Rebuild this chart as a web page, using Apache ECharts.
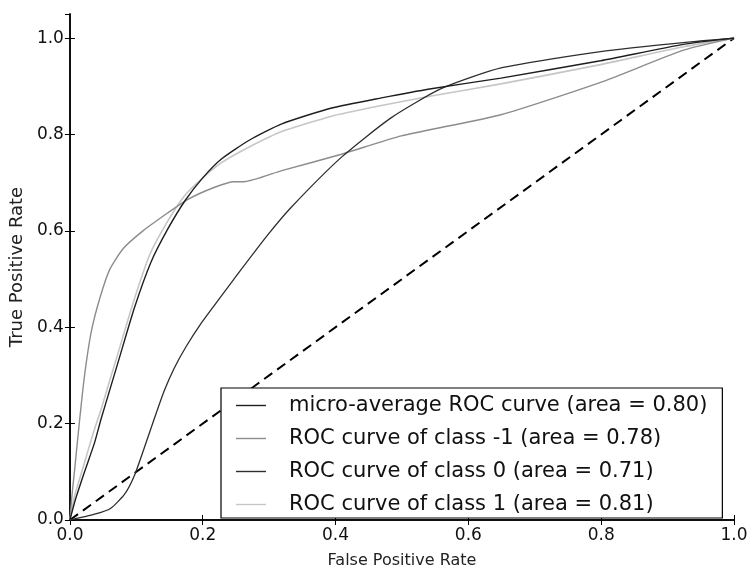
<!DOCTYPE html>
<html>
<head>
<meta charset="utf-8">
<script src="https://cdn.jsdelivr.net/npm/echarts@6/dist/echarts.min.js"></script>
<style>html,body{margin:0;padding:0;background:#fff}#c{width:751px;height:574px}</style>
</head>
<body>
<div id="c"></div>
<script>
var seriesNames = [
  'micro-average ROC curve (area = 0.80)',
  'ROC curve of class -1 (area = 0.78)',
  'ROC curve of class 0 (area = 0.71)',
  'ROC curve of class 1 (area = 0.81)'
];
var xTicks = [0, 0.2, 0.4, 0.6, 0.8, 1.0];
var yTicks = [0, 0.2, 0.4, 0.6, 0.8, 1.0];

var microFpr = [0, 0.0075, 0.022, 0.037, 0.047, 0.06, 0.072, 0.097, 0.122, 0.147, 0.174, 0.2, 0.229, 0.27, 0.319, 0.394, 0.469, 0.544, 0.649, 0.799, 0.924, 1];
var microTpr = [0, 0.039, 0.1, 0.16, 0.21, 0.27, 0.325, 0.44, 0.535, 0.603, 0.664, 0.71, 0.75, 0.788, 0.822, 0.855, 0.876, 0.895, 0.917, 0.953, 0.987, 1];

var negFpr = [0, 0.003, 0.0075, 0.014, 0.022, 0.032, 0.045, 0.06, 0.08, 0.11, 0.147, 0.177, 0.217, 0.247, 0.262, 0.319, 0.409, 0.499, 0.649, 0.799, 0.924, 1];
var negTpr = [0, 0.05, 0.11, 0.2, 0.3, 0.39, 0.46, 0.52, 0.563, 0.6, 0.637, 0.665, 0.69, 0.702, 0.702, 0.725, 0.759, 0.797, 0.841, 0.908, 0.975, 1];

var zeroFpr = [0, 0.037, 0.061, 0.082, 0.097, 0.112, 0.127, 0.142, 0.157, 0.175, 0.196, 0.22, 0.247, 0.297, 0.334, 0.409, 0.484, 0.559, 0.649, 0.799, 0.949, 1];
var zeroTpr = [0, 0.012, 0.024, 0.053, 0.092, 0.15, 0.21, 0.268, 0.315, 0.36, 0.405, 0.45, 0.5, 0.59, 0.65, 0.753, 0.835, 0.895, 0.938, 0.972, 0.994, 1];

var oneFpr = [0, 0.007, 0.02, 0.035, 0.047, 0.06, 0.07, 0.095, 0.12, 0.145, 0.172, 0.2, 0.229, 0.27, 0.319, 0.394, 0.469, 0.544, 0.649, 0.799, 0.924, 1];
var oneTpr = [0, 0.05, 0.11, 0.18, 0.23, 0.29, 0.335, 0.45, 0.55, 0.615, 0.672, 0.71, 0.742, 0.774, 0.806, 0.838, 0.86, 0.88, 0.905, 0.945, 0.982, 1];

var chanceFpr = [0, 1];
var chanceTpr = [0, 1];

function pairs(xs, ys) { return xs.map(function (x, i) { return [x, ys[i]]; }); }

var FONT = 'DejaVu Sans';
var chart = echarts.init(document.getElementById('c'), null, {renderer: 'canvas'});
var fmt = function (v) { return Number(v).toFixed(1); };
var tickStyle = {show: true, inside: true, length: 5, lineStyle: {color: '#000', width: 1}};
var axisLine = {show: true, lineStyle: {color: '#000', width: 1.5}};
var lineIcon = 'path://M0,0L30,0L30,1.4L0,1.4Z';
var SM = 0.2;

chart.setOption({
  animation: false,
  backgroundColor: '#fff',
  grid: {left: 67, top: 14, right: 17, bottom: 45, containLabel: false},
  legend: {
    data: seriesNames.map(function (n) { return {name: n, icon: lineIcon}; }),
    orient: 'vertical',
    left: 221, top: 388,
    backgroundColor: '#fff',
    borderColor: '#000', borderWidth: 1.2, borderRadius: 0,
    padding: [7, 15, 3, 15],
    itemWidth: 30, itemHeight: 14, itemGap: 12,
    textStyle: {fontFamily: FONT, fontSize: 21, color: '#111', padding: [0, 0, 0, 18]}
  },
  xAxis: [{
    type: 'value', min: 0, max: 1, interval: 0.2, position: 'bottom',
    name: 'False Positive Rate', nameLocation: 'middle', nameGap: 33,
    nameTextStyle: {fontFamily: FONT, fontSize: 16, color: '#222'},
    axisLine: axisLine, axisTick: tickStyle, splitLine: {show: false},
    axisLabel: {fontFamily: FONT, fontSize: 17, color: '#111', margin: 7, formatter: fmt}
  }, {
    type: 'value', min: 0, max: 1, interval: 0.2, position: 'top',
    axisLine: axisLine, axisTick: tickStyle, splitLine: {show: false}, axisLabel: {show: false}
  }],
  yAxis: [{
    type: 'value', min: 0, max: 1.05, interval: 0.2, position: 'left',
    name: 'True Positive Rate', nameLocation: 'middle', nameGap: 40,
    nameTextStyle: {fontFamily: FONT, fontSize: 18, color: '#222'},
    axisLine: axisLine, axisTick: tickStyle, splitLine: {show: false},
    axisLabel: {fontFamily: FONT, fontSize: 17, color: '#111', margin: 6, formatter: fmt, showMaxLabel: false}
  }, {
    type: 'value', min: 0, max: 1.05, interval: 0.2, position: 'right',
    axisLine: axisLine, axisTick: tickStyle, splitLine: {show: false}, axisLabel: {show: false}
  }],
  series: [
    {name: seriesNames[0], type: 'line', data: pairs(microFpr, microTpr), symbol: 'none', smooth: SM,
     lineStyle: {color: '#1e1e1e', width: 1.4}, itemStyle: {color: '#1e1e1e'}, z: 4},
    {name: seriesNames[1], type: 'line', data: pairs(negFpr, negTpr), symbol: 'none', smooth: SM,
     lineStyle: {color: '#8c8c8c', width: 1.4}, itemStyle: {color: '#8c8c8c'}, z: 3},
    {name: seriesNames[2], type: 'line', data: pairs(zeroFpr, zeroTpr), symbol: 'none', smooth: SM,
     lineStyle: {color: '#2e2e2e', width: 1.3}, itemStyle: {color: '#2e2e2e'}, z: 3},
    {name: seriesNames[3], type: 'line', data: pairs(oneFpr, oneTpr), symbol: 'none', smooth: SM,
     lineStyle: {color: '#c6c6c6', width: 1.6}, itemStyle: {color: '#c6c6c6'}, z: 2},
    {name: 'chance', type: 'line', data: pairs(chanceFpr, chanceTpr), symbol: 'none',
     lineStyle: {color: '#000', width: 2, type: [10, 6]}, z: 1}
  ]
});
</script>
</body>
</html>
